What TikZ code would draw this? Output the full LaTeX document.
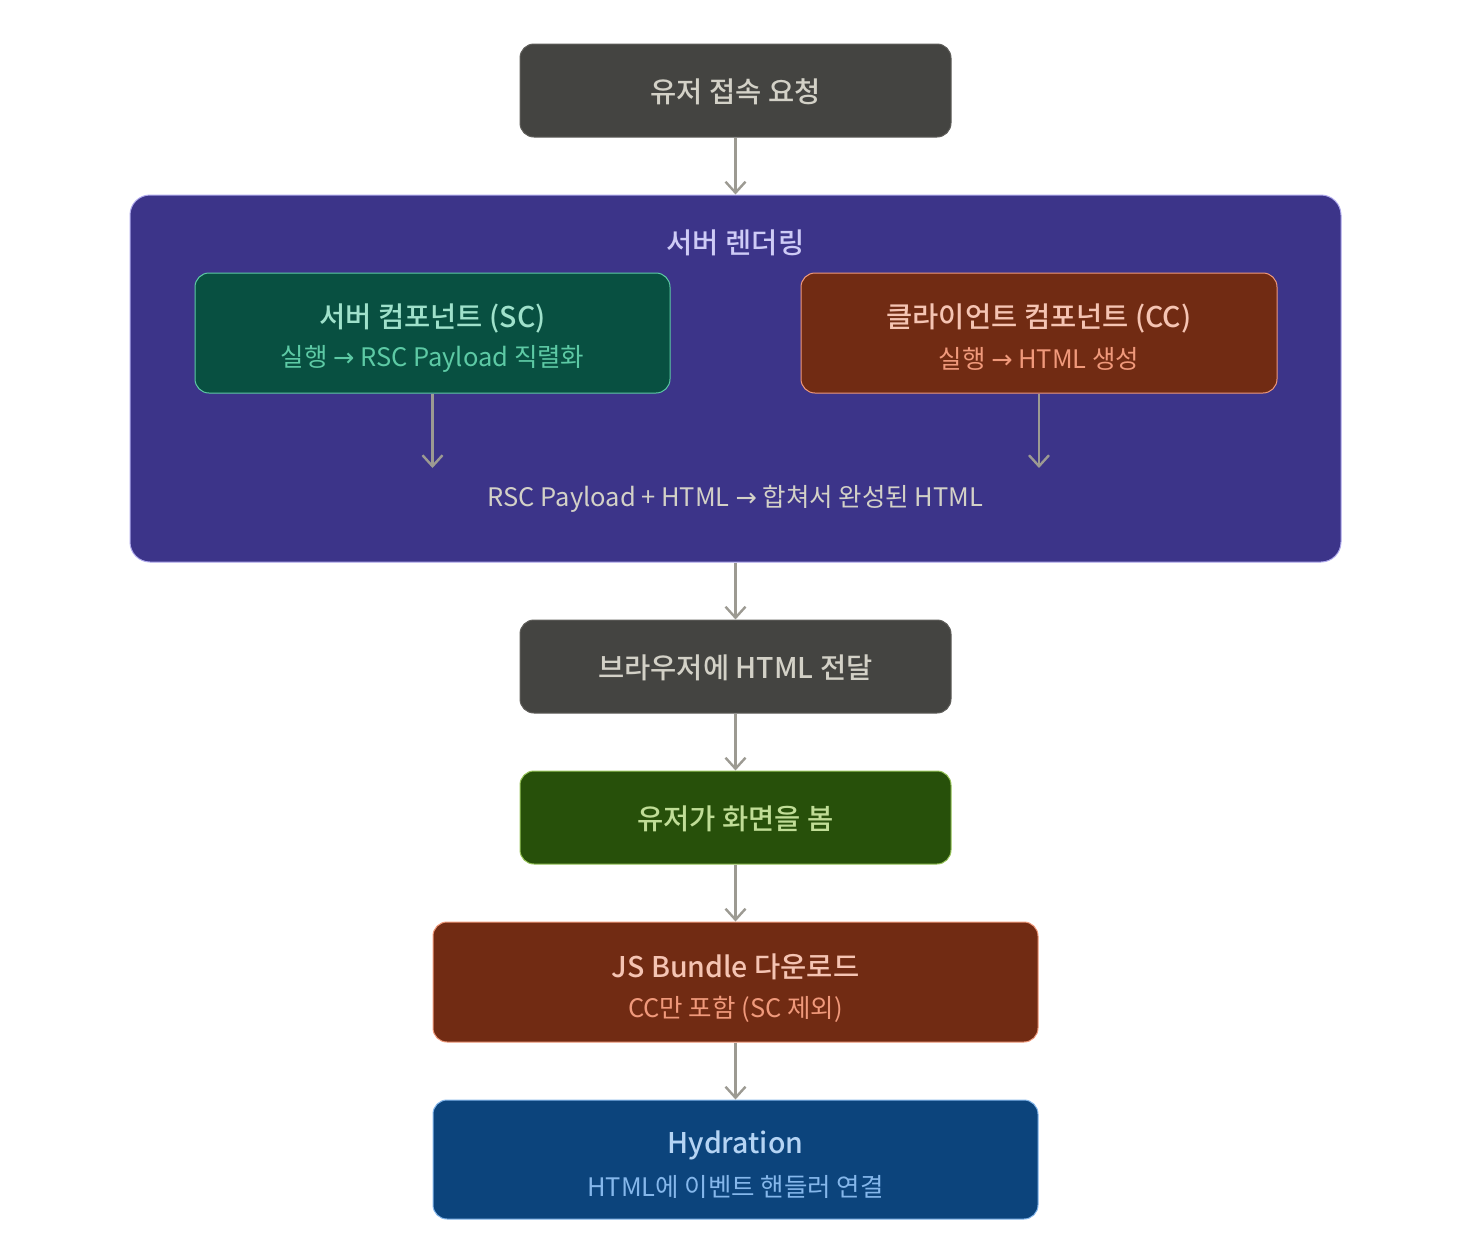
\documentclass[tikz,border=0pt]{standalone}
\usepackage{fontspec}
\setmainfont{Noto Sans CJK KR}
\newfontfamily\medfont{Noto Sans CJK KR Medium}
\newfontfamily\symfont{DejaVu Sans}
\newcommand{\rarr}{{\symfont →}}
\usetikzlibrary{arrows.meta}
\definecolor{graybox}{HTML}{444441}
\definecolor{graytxt}{HTML}{D3D1C7}
\definecolor{graybd}{HTML}{5F5E5A}
\definecolor{purplebox}{HTML}{3C3489}
\definecolor{purplebd}{HTML}{AFA9EC}
\definecolor{purpletxt}{HTML}{CECBF6}
\definecolor{tealbox}{HTML}{085041}
\definecolor{tealbd}{HTML}{5DCAA5}
\definecolor{tealtxt}{HTML}{9FE1CB}
\definecolor{coralbox}{HTML}{712B13}
\definecolor{coralbd}{HTML}{F0997B}
\definecolor{coraltxt}{HTML}{F5C4B3}
\definecolor{greenbox}{HTML}{27500A}
\definecolor{greenbd}{HTML}{97C459}
\definecolor{greentxt}{HTML}{C0DD97}
\definecolor{bluebox}{HTML}{0C447C}
\definecolor{bluebd}{HTML}{85B7EB}
\definecolor{bluetxt}{HTML}{B5D4F4}
\definecolor{arrowc}{HTML}{9C9A92}
\tikzset{
  box/.style={rectangle, rounded corners=14pt, line width=1pt, inner sep=0pt},
  ttl/.style={font=\fontsize{28.5}{32}\medfont, inner sep=0pt},
  sub/.style={font=\fontsize{25.5}{29}\selectfont, inner sep=0pt},
  flow/.style={draw=arrowc, line width=2.4pt, -{Straight Barb[length=11pt,width=20pt,line width=2.4pt]}},
}
\begin{document}
\begin{tikzpicture}[x=1pt,y=-1pt]
\useasboundingbox[fill=white] (0,0) rectangle (1472,1256);
% nodes
\node[box, fill=graybox, draw=graybd, minimum width=431pt, minimum height=93pt] (req) at (735.5,90.5) {};
\node[ttl, text=graytxt] (reqt) at (735.5,92) {유저 접속 요청};

\node[box, rounded corners=20pt, fill=purplebox, draw=purplebd, minimum width=1211pt, minimum height=367pt] (srv) at (735.5,378.5) {};
\node[ttl, text=purpletxt] (srvt) at (735.5,243) {서버 렌더링};

\node[box, fill=tealbox, draw=tealbd, minimum width=475pt, minimum height=120pt] (sc) at (432.5,333) {};
\node[ttl, text=tealtxt] (sct) at (432.5,318) {서버 컴포넌트 (SC)};
\node[sub, text=tealbd] (scs) at (432.5,359) {실행 \rarr{} RSC Payload 직렬화};

\node[box, fill=coralbox, draw=coralbd, minimum width=476pt, minimum height=120pt] (cc) at (1039,333) {};
\node[ttl, text=coraltxt] (cct) at (1039,318) {클라이언트 컴포넌트 (CC)};
\node[sub, text=coralbd] (ccs) at (1039,359) {실행 \rarr{} HTML 생성};

\coordinate (scend) at (432.5,468);
\coordinate (ccend) at (1039,468);
\node[sub, text=graytxt] (merge) at (735.5,499) {RSC Payload + HTML \rarr{} 합쳐서 완성된 HTML};

\node[box, fill=graybox, draw=graybd, minimum width=431pt, minimum height=93pt] (brw) at (735.5,666.5) {};
\node[ttl, text=graytxt] (brwt) at (735.5,668) {브라우저에 HTML 전달};

\node[box, fill=greenbox, draw=greenbd, minimum width=431pt, minimum height=93pt] (see) at (735.5,817.5) {};
\node[ttl, text=greentxt] (seet) at (735.5,819) {유저가 화면을 봄};

\node[box, fill=coralbox, draw=coralbd, minimum width=605pt, minimum height=120pt] (js) at (735.5,982) {};
\node[ttl, text=coraltxt] (jst) at (735.5,967) {JS Bundle 다운로드};
\node[sub, text=coralbd] (jss) at (735.5,1009) {CC만 포함 (SC 제외)};

\node[box, fill=bluebox, draw=bluebd, minimum width=605pt, minimum height=119pt] (hyd) at (735.5,1159.5) {};
\node[ttl, text=bluetxt] (hydt) at (735.5,1145) {Hydration};
\node[sub, text=bluebd] (hyds) at (735.5,1187) {HTML에 이벤트 핸들러 연결};

% connectors
\draw[flow] (req.south) -- (srv.north);
\draw[flow] (sc.south) -- (scend);
\draw[flow] (cc.south) -- (ccend);
\draw[flow] (srv.south) -- (brw.north);
\draw[flow] (brw.south) -- (see.north);
\draw[flow] (see.south) -- (js.north);
\draw[flow] (js.south) -- (hyd.north);
\end{tikzpicture}
\end{document}
